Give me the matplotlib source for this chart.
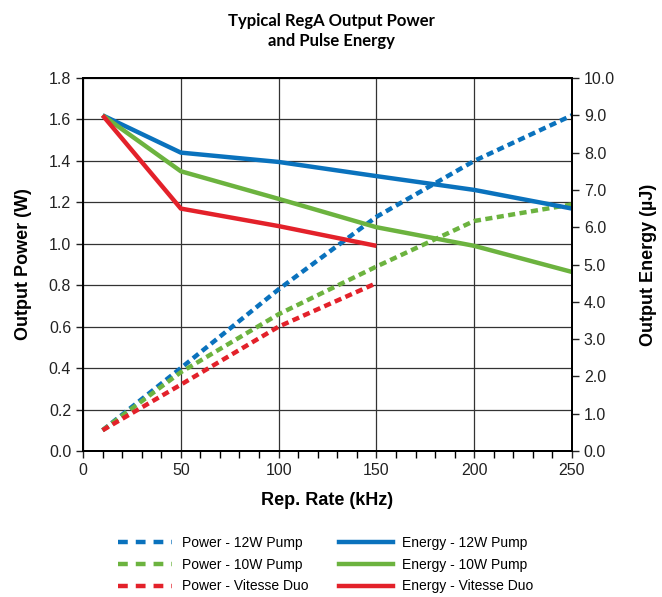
import matplotlib.pyplot as plt
from matplotlib.lines import Line2D
from matplotlib.ticker import MultipleLocator

plt.rcParams['font.family'] = ['Liberation Sans', 'DejaVu Sans']

# Rep. rate (kHz)
rate = [10, 50, 100, 150, 200, 250]
rate_duo = [10, 50, 100, 150]

# Output power (W), left axis
power_12w = [0.10, 0.40, 0.78, 1.13, 1.40, 1.62]
power_10w = [0.10, 0.38, 0.66, 0.89, 1.11, 1.19]
power_duo = [0.10, 0.32, 0.60, 0.81]

# Pulse energy (uJ), right axis
energy_12w = [9.0, 8.0, 7.75, 7.37, 7.0, 6.5]
energy_10w = [9.0, 7.5, 6.76, 6.0, 5.5, 4.8]
energy_duo = [9.0, 6.5, 6.03, 5.5]

BLUE = "#0a72bd"
GREEN = "#6cb33f"
RED = "#e3212a"
LW = 3.2
DOT = (1.6, 1.0)

fig = plt.figure(figsize=(6.62, 5.97), dpi=100)
ax = fig.add_axes([0.1254, 0.2446, 0.7386, 0.6247])
ax2 = ax.twinx()

# Power curves (dotted)
ax.plot(rate, power_12w, color=BLUE, lw=LW, dashes=DOT)
ax.plot(rate, power_10w, color=GREEN, lw=LW, dashes=DOT)
ax.plot(rate_duo, power_duo, color=RED, lw=LW, dashes=DOT)

# Energy curves (solid)
ax2.plot(rate, energy_12w, color=BLUE, lw=LW, solid_capstyle='butt')
ax2.plot(rate, energy_10w, color=GREEN, lw=LW, solid_capstyle='butt')
ax2.plot(rate_duo, energy_duo, color=RED, lw=LW, solid_capstyle='butt')

ax.set_xlim(0, 250)
ax.set_ylim(0, 1.8)
ax2.set_ylim(0, 10)

ax.xaxis.set_major_locator(MultipleLocator(50))
ax.xaxis.set_minor_locator(MultipleLocator(10))
ax.yaxis.set_major_locator(MultipleLocator(0.2))
ax2.yaxis.set_major_locator(MultipleLocator(1.0))

ax.yaxis.set_major_formatter(lambda v, p: "%.1f" % v)
ax2.yaxis.set_major_formatter(lambda v, p: "%.1f" % v)

ax.grid(True, which='major', color='#333333', lw=0.9)
ax.set_axisbelow(True)

ax.tick_params(axis='both', which='major', direction='out', length=5, width=1,
               labelsize=11.5, colors='#222222')
ax.tick_params(axis='x', which='minor', direction='out', length=5, width=1)
ax2.tick_params(axis='y', direction='out', length=5, width=1, labelsize=11.5,
                colors='#222222')

for a in (ax, ax2):
    for s in a.spines.values():
        s.set_linewidth(1.4)

ax.set_xlabel("Rep. Rate (kHz)", fontsize=13, fontweight='bold', labelpad=10)
ax.set_ylabel("Output Power (W)", fontsize=13, fontweight='bold', labelpad=12)
ax2.set_ylabel("Output Energy (\u00b5J)", fontsize=13, fontweight='bold', labelpad=18)

fig.text(0.5, 0.948, "Typical RegA Output Power\nand Pulse Energy", ha='center',
         va='center', fontsize=12, fontweight='bold', family=['Lato', 'DejaVu Sans'],
         linespacing=1.35)

handles = [
    Line2D([], [], color=BLUE, lw=LW, dashes=(2.2, 1.8)),
    Line2D([], [], color=GREEN, lw=LW, dashes=(2.2, 1.8)),
    Line2D([], [], color=RED, lw=LW, dashes=(2.2, 1.8)),
    Line2D([], [], color=BLUE, lw=LW),
    Line2D([], [], color=GREEN, lw=LW),
    Line2D([], [], color=RED, lw=LW),
]
labels = ["Power - 12W Pump", "Power - 10W Pump", "Power - Vitesse Duo",
          "Energy - 12W Pump", "Energy - 10W Pump", "Energy - Vitesse Duo"]
fig.legend(handles, labels, ncol=2, loc='center', bbox_to_anchor=(0.492, 0.054),
           frameon=False, fontsize=10, handlelength=3.9, columnspacing=2.2,
           labelspacing=0.55, handletextpad=0.7, borderpad=0.2)

fig.savefig("out.png", dpi=100)
